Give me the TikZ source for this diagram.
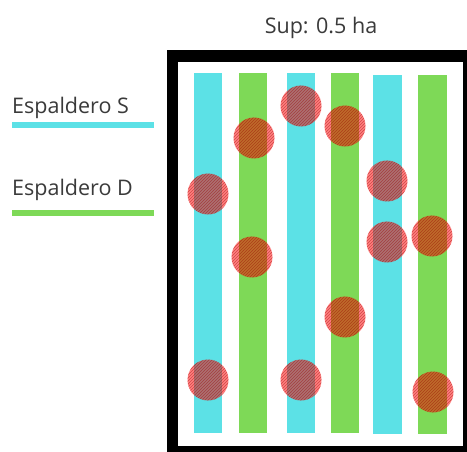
\documentclass[tikz,border=0pt]{standalone}
\usepackage{fontspec}
\setmainfont{Open Sans}
\usetikzlibrary{patterns}
\definecolor{bcyan}{HTML}{5CE1E6}
\definecolor{bgreen}{HTML}{7ED957}
\definecolor{txt}{HTML}{3A3A3A}
\begin{document}
\begin{tikzpicture}[x=1pt,y=-1pt,
  lbl/.style={font=\fontsize{21.5}{24}\selectfont, text=txt, inner sep=0pt},
  cbar/.style={fill=bcyan, draw=none},
  gbar/.style={fill=bgreen, draw=none},
  spot/.style={circle, minimum size=41pt, inner sep=0pt, draw=none,
     fill=red, fill opacity=0.5},
  hatch/.style={circle, minimum size=41pt, inner sep=0pt, draw=none,
     pattern=north east lines, pattern color=red!60!black, opacity=0.45}]
\useasboundingbox (0,0) rectangle (467,452);
\fill[white] (0,0) rectangle (467,452);
% frame
\fill[black] (167,50) rectangle (467,452);
\fill[white] (178,62) rectangle (463,446);
% bars
\fill[cbar] (194,73) rectangle (222,433);
\fill[gbar] (239,73) rectangle (267,433);
\fill[cbar] (287,73) rectangle (315,433);
\fill[gbar] (331,73) rectangle (359,433);
\fill[cbar] (373,75) rectangle (402,434);
\fill[gbar] (418,75) rectangle (447,434);
% spots
\foreach \n/\x/\y in {a/208/194, b/254/138, c/301/106, d/345/126, e/387/181, f/252/257, g/387/242, h/432/236, i/345/317, j/208/380, k/301/380, l/433/392}{
  \node[spot] (s\n) at (\x,\y) {};
  \node[hatch] at (\x,\y) {};
}
% texts
\node[lbl, anchor=base] (sup) at (321,34) {Sup: 0.5 ha};
\node[lbl, anchor=base west] (ls) at (12,114) {Espaldero S};
\node[lbl, anchor=base west] (ld) at (12,196) {Espaldero D};
\coordinate (s1) at (12,125); \coordinate (s2) at (154,125);
\coordinate (d1) at (12,213); \coordinate (d2) at (154,213);
\draw[bcyan, line width=6pt] (s1) -- (s2);
\draw[bgreen, line width=6pt] (d1) -- (d2);
\end{tikzpicture}
\end{document}
